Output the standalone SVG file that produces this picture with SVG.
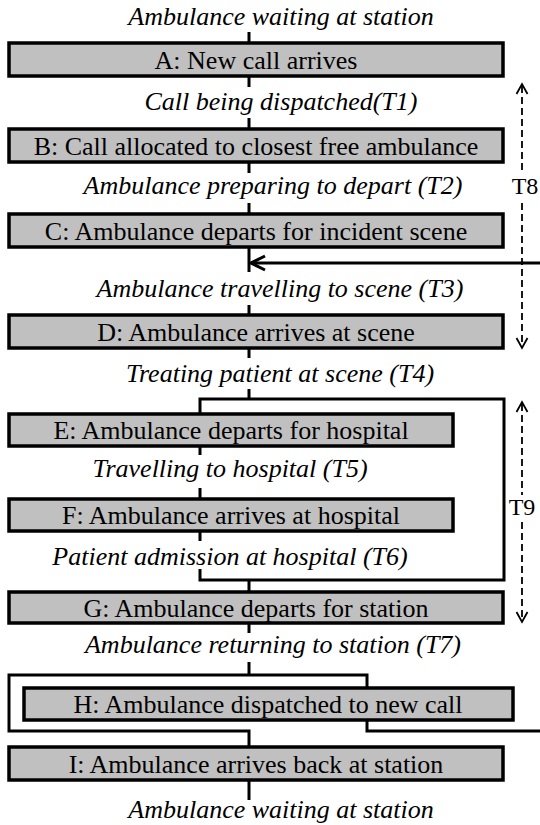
<svg xmlns="http://www.w3.org/2000/svg" width="540" height="825" viewBox="0 0 540 825">
<style>
.box{fill:#c0c0c0;stroke:#000;stroke-width:3.5}
.bt{font-family:"Liberation Serif","Times New Roman",serif;font-size:26px;text-anchor:middle;fill:#000}
.st{font-family:"Liberation Serif","Times New Roman",serif;font-size:26px;font-style:italic;text-anchor:middle;fill:#000}
.tl{font-family:"Liberation Serif","Times New Roman",serif;font-size:24px;text-anchor:middle;fill:#000}
.ln{fill:none;stroke:#000;stroke-width:3}
.dash{fill:none;stroke:#000;stroke-width:1.8;stroke-dasharray:7 4}
.head{fill:none;stroke:#000;stroke-width:1.8}
</style>
<rect width="540" height="825" fill="#fff"/>
<g id="connectors">
<path class="ln" d="M249,32V42M249,77V87M249,118V128M249,163V173M249,203V213M249,248V272M249,305V314M249,349V358M249,389V399"/>
<path class="ln" d="M200,413V399H504V580H200V569M200,447V455M200,488V498M200,532V541"/>
<path class="ln" d="M249,580V591M249,624V633M249,662V675"/>
<path class="ln" d="M367,687V675H9V731H249V746M367,721V731H540M249,781V800"/>
<path class="ln" d="M540,263H251"/>
<path class="ln" d="M265,256L251,263L265,270"/>
</g>
<g id="T8">
<path class="dash" d="M522,86V170M522,203V346"/>
<path class="head" d="M516.5,94L522,84L527.5,94M516.5,338L522,348L527.5,338"/>
<text class="tl" x="525" y="194">T8</text>
</g>
<g id="T9">
<path class="dash" d="M522,404V495M522,522V620"/>
<path class="head" d="M516.5,412L522,402L527.5,412M516.5,612L522,622L527.5,612"/>
<text class="tl" x="522" y="515">T9</text>
</g>
<g id="labels">
<text class="st" x="281" y="25">Ambulance waiting at station</text>
<text class="st" x="281" y="110">Call being dispatched(T1)</text>
<text class="st" x="273" y="194">Ambulance preparing to depart (T2)</text>
<text class="st" x="280" y="297">Ambulance travelling to scene (T3)</text>
<text class="st" x="280" y="382">Treating patient at scene (T4)</text>
<text class="st" x="230" y="477">Travelling to hospital (T5)</text>
<text class="st" x="230" y="565">Patient admission at hospital (T6)</text>
<text class="st" x="273" y="653">Ambulance returning to station (T7)</text>
<text class="st" x="281" y="818">Ambulance waiting at station</text>
</g>
<g id="A"><rect class="box" x="9" y="43" width="494" height="33"/><text class="bt" x="256" y="68.5">A: New call arrives</text></g>
<g id="B"><rect class="box" x="9" y="129" width="494" height="33"/><text class="bt" x="256" y="154.5">B: Call allocated to closest free ambulance</text></g>
<g id="C"><rect class="box" x="9" y="214" width="494" height="33"/><text class="bt" x="256" y="239.5">C: Ambulance departs for incident scene</text></g>
<g id="D"><rect class="box" x="9" y="315" width="494" height="33"/><text class="bt" x="256" y="340.5">D: Ambulance arrives at scene</text></g>
<g id="E"><rect class="box" x="9" y="414" width="444" height="32"/><text class="bt" x="231" y="439">E: Ambulance departs for hospital</text></g>
<g id="F"><rect class="box" x="9" y="499" width="444" height="32"/><text class="bt" x="231" y="524">F: Ambulance arrives at hospital</text></g>
<g id="G"><rect class="box" x="9" y="592" width="494" height="31"/><text class="bt" x="256" y="616.5">G: Ambulance departs for station</text></g>
<g id="H"><rect class="box" x="24" y="688" width="489" height="32"/><text class="bt" x="268" y="713">H: Ambulance dispatched to new call</text></g>
<g id="I"><rect class="box" x="9" y="747" width="494" height="33"/><text class="bt" x="256" y="772.5">I: Ambulance arrives back at station</text></g>
</svg>
